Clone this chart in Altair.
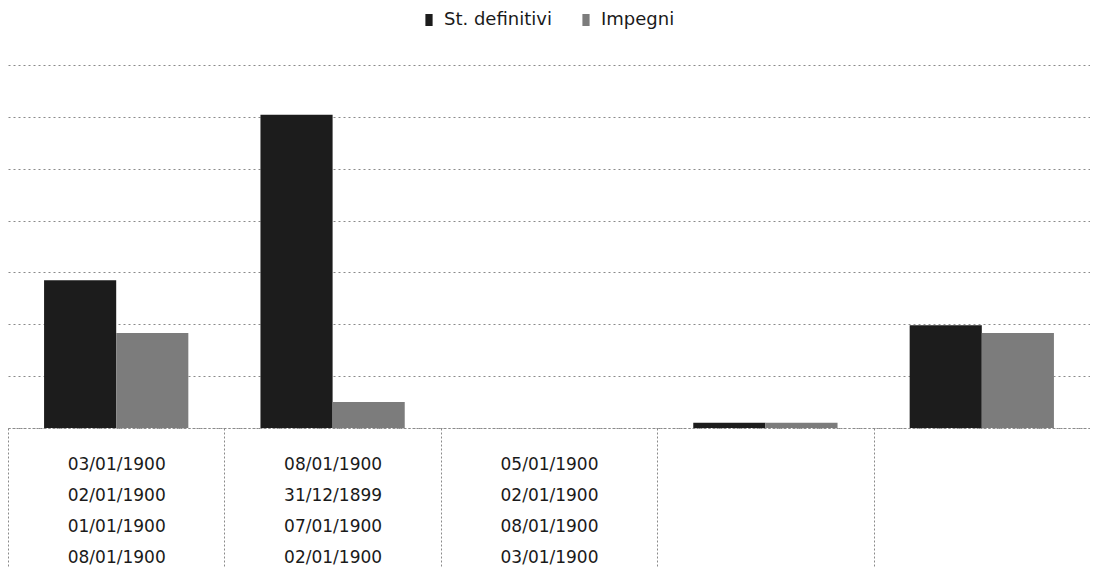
import altair as alt
import pandas as pd

categories = ["c1", "c2", "c3", "c4", "c5"]
series = ["St. definitivi", "Impegni"]
st_definitivi = [2.85, 6.04, 0.0, 0.1, 1.98]
impegni = [1.83, 0.5, 0.0, 0.1, 1.83]
tick_labels = [
    ["03/01/1900", "02/01/1900", "01/01/1900", "08/01/1900"],
    ["08/01/1900", "31/12/1899", "07/01/1900", "02/01/1900"],
    ["05/01/1900", "02/01/1900", "08/01/1900", "03/01/1900"],
    [""],
    [""],
]
colors = ["#1c1c1c", "#7c7c7c"]

rows = []
for i, c in enumerate(categories):
    rows.append({"cat": c, "series": series[0], "value": st_definitivi[i]})
    rows.append({"cat": c, "series": series[1], "value": impegni[i]})
df = pd.DataFrame(rows)

def arr(lst):
    return "[" + ",".join("'" + s + "'" for s in lst) + "]"

expr = ""
for c, lab in zip(categories[:-1], tick_labels[:-1]):
    expr += f"datum.value == '{c}' ? {arr(lab)} : "
expr += arr(tick_labels[-1])

chart = alt.Chart(df).mark_bar().encode(
    x=alt.X(
        "cat:N",
        sort=categories,
        scale=alt.Scale(paddingInner=0, paddingOuter=0),
        axis=alt.Axis(
            title=None,
            labelExpr=expr,
            labelAngle=0,
            tickBand="extent",
            tickSize=142,
            tickDash=[2, 2],
            tickColor="#8a8a8a",
            domainDash=[2, 2],
            domainColor="#8a8a8a",
            labelPadding=-114,
            labelFontSize=17,
            labelLineHeight=31,
            labelFont="DejaVu Sans",
            labelColor="#1a1a1a",
        ),
    ),
    xOffset=alt.XOffset("series:N", sort=series,
                        scale=alt.Scale(paddingOuter=0.5, paddingInner=0)),
    y=alt.Y(
        "value:Q",
        scale=alt.Scale(domain=[0, 7]),
        axis=alt.Axis(
            title=None, labels=False, ticks=False, domain=False,
            values=[0, 1, 2, 3, 4, 5, 6, 7],
            gridDash=[2, 3], gridColor="#8a8a8a",
        ),
    ),
    color=alt.Color(
        "series:N",
        sort=series,
        scale=alt.Scale(domain=series, range=colors),
        legend=alt.Legend(
            title=None, orient="none", legendX=412, legendY=-54,
            direction="horizontal",
            symbolType="M-0.6,-1H0.6V1H-0.6Z", symbolSize=144,
            labelFontSize=18, labelFont="DejaVu Sans", labelColor="#1a1a1a",
            columnPadding=25, labelOffset=6, symbolStrokeWidth=0,
        ),
    ),
).properties(
    width=1082, height=363,
    autosize=alt.AutoSizeParams(type="none"),
    padding={"top": 57, "left": 0, "right": 0, "bottom": 140},
).configure_view(strokeWidth=0)

chart.save("out.html", embed_options={"renderer": "svg", "actions": False})
